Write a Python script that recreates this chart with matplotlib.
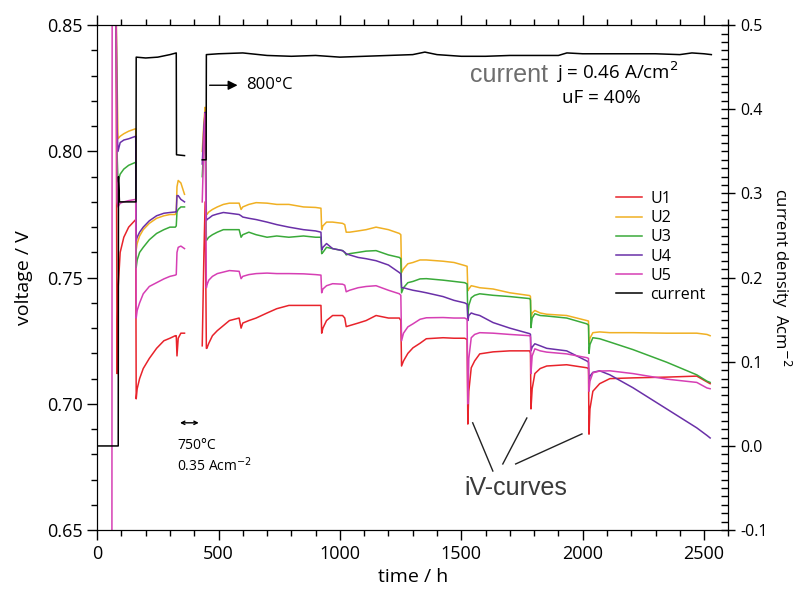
import numpy as np
import matplotlib.pyplot as plt
from matplotlib.ticker import MultipleLocator

nan = np.nan

# common time base for the five cell voltages (h); 400 h is the gap in the record
T = [61, 62, 64, 78, 82, 86, 95, 110, 130, 159,
     161, 165, 175, 190, 215, 245, 275, 300, 322, 326,
     329, 334, 345, 360, 400, 433, 440, 445, 450, 452,
     460, 475, 495, 520, 545, 585, 593, 600, 625, 655,
     700, 740, 790, 850, 900, 922, 925, 930, 945, 970,
     1011, 1020, 1026, 1040, 1075, 1108, 1149, 1200, 1245, 1251,
     1254, 1262, 1280, 1301, 1330, 1356, 1425, 1470, 1514, 1524,
     1527, 1531, 1541, 1555, 1576, 1631, 1700, 1782, 1785, 1787,
     1792, 1803, 1825, 1852, 1934, 2017, 2024, 2026, 2030, 2042,
     2070, 2112, 2207, 2346, 2470, 2512, 2525]

U1 = [nan, nan, 0.86, 0.86, 0.712, 0.745, 0.760, 0.766, 0.770, 0.773,
      0.702, 0.706, 0.710, 0.714, 0.718, 0.722, 0.725, 0.726, 0.727, 0.727,
      0.719, 0.726, 0.728, 0.728, nan, 0.723, 0.760, 0.780, 0.722, 0.722,
      0.724, 0.727, 0.729, 0.731, 0.733, 0.734, 0.730, 0.732, 0.733, 0.734,
      0.736, 0.7377, 0.739, 0.739, 0.739, 0.739, 0.728, 0.730, 0.733, 0.735,
      0.735, 0.734, 0.7306, 0.731, 0.732, 0.733, 0.735, 0.734, 0.734, 0.733,
      0.715, 0.717, 0.720, 0.7222, 0.724, 0.7258, 0.7262, 0.726, 0.726, 0.7255,
      0.692, 0.705, 0.7143, 0.717, 0.7198, 0.7206, 0.721, 0.721, 0.720, 0.698,
      0.706, 0.712, 0.714, 0.715, 0.7155, 0.7143, 0.714, 0.688, 0.698, 0.705,
      0.708, 0.710, 0.7103, 0.7106, 0.711, 0.7087, 0.708]

U2 = [nan, nan, 0.86, 0.86, 0.83, 0.805, 0.806, 0.807, 0.808, 0.809,
      0.761, 0.7635, 0.7665, 0.769, 0.7715, 0.7735, 0.7745, 0.775, 0.775, 0.776,
      0.786, 0.7885, 0.7875, 0.783, nan, 0.800, 0.812, 0.8175, 0.775, 0.775,
      0.776, 0.777, 0.778, 0.779, 0.7795, 0.7795, 0.777, 0.778, 0.779, 0.7797,
      0.7795, 0.779, 0.779, 0.778, 0.7778, 0.7775, 0.769, 0.7705, 0.772, 0.772,
      0.7715, 0.771, 0.768, 0.768, 0.7685, 0.769, 0.770, 0.769, 0.7675, 0.767,
      0.752, 0.7535, 0.7555, 0.756, 0.757, 0.757, 0.7565, 0.756, 0.7548, 0.7545,
      0.7448, 0.7455, 0.7468, 0.7465, 0.746, 0.7455, 0.744, 0.7429, 0.7425, 0.7337,
      0.736, 0.737, 0.736, 0.7355, 0.735, 0.733, 0.7328, 0.7238, 0.726, 0.7282,
      0.7285, 0.7282, 0.7282, 0.728, 0.728, 0.7275, 0.727]

U3 = [nan, nan, 0.86, 0.86, 0.80, 0.788, 0.791, 0.793, 0.7945, 0.7957,
      0.754, 0.757, 0.760, 0.762, 0.765, 0.7675, 0.769, 0.770, 0.770, 0.7705,
      0.776, 0.777, 0.778, 0.778, nan, 0.790, 0.804, 0.809, 0.7647, 0.765,
      0.766, 0.767, 0.768, 0.769, 0.769, 0.769, 0.766, 0.767, 0.768, 0.767,
      0.766, 0.7665, 0.766, 0.7665, 0.766, 0.766, 0.7595, 0.760, 0.762, 0.7615,
      0.7607, 0.760, 0.759, 0.7595, 0.760, 0.7605, 0.7607, 0.759, 0.758, 0.7575,
      0.744, 0.746, 0.748, 0.7485, 0.7495, 0.7496, 0.749, 0.7485, 0.748, 0.7475,
      0.735, 0.739, 0.742, 0.743, 0.7436, 0.743, 0.7425, 0.7417, 0.741, 0.7302,
      0.734, 0.7357, 0.735, 0.7348, 0.734, 0.7317, 0.7312, 0.720, 0.7235, 0.7262,
      0.7258, 0.7245, 0.7215, 0.7165, 0.7115, 0.709, 0.7085]

U4 = [nan, nan, 0.86, 0.86, 0.81, 0.800, 0.8035, 0.8045, 0.805, 0.806,
      0.7647, 0.766, 0.768, 0.770, 0.7725, 0.7745, 0.7755, 0.7758, 0.776, 0.776,
      0.7825, 0.7825, 0.781, 0.780, nan, 0.795, 0.810, 0.8155, 0.7726, 0.773,
      0.7735, 0.7746, 0.7752, 0.7758, 0.7755, 0.775, 0.7745, 0.774, 0.7735, 0.773,
      0.772, 0.771, 0.770, 0.769, 0.7685, 0.768, 0.761, 0.762, 0.7635, 0.7615,
      0.7607, 0.760, 0.7595, 0.759, 0.758, 0.7575, 0.7567, 0.755, 0.752, 0.7515,
      0.746, 0.746, 0.7455, 0.745, 0.7445, 0.744, 0.7425, 0.741, 0.740, 0.7395,
      0.733, 0.735, 0.736, 0.7355, 0.735, 0.7322, 0.730, 0.7278, 0.7275, 0.721,
      0.7225, 0.7238, 0.723, 0.722, 0.721, 0.717, 0.7165, 0.708, 0.711, 0.7125,
      0.7131, 0.7115, 0.7064, 0.698, 0.6905, 0.6875, 0.6865]

U5 = [0.645, 0.86, 0.86, 0.86, 0.78, 0.778, 0.7795, 0.780, 0.7805, 0.781,
      0.734, 0.737, 0.740, 0.7436, 0.7465, 0.748, 0.7495, 0.7505, 0.751, 0.7512,
      0.760, 0.762, 0.7625, 0.7615, nan, 0.780, 0.805, 0.815, 0.746, 0.747,
      0.749, 0.7505, 0.7516, 0.7522, 0.7528, 0.7525, 0.7496, 0.7505, 0.7512, 0.7516,
      0.7518, 0.7516, 0.7516, 0.7515, 0.7512, 0.751, 0.744, 0.7455, 0.7468, 0.7476,
      0.7474, 0.747, 0.7444, 0.745, 0.746, 0.7465, 0.7468, 0.745, 0.7436, 0.743,
      0.725, 0.728, 0.7305, 0.7317, 0.7335, 0.7341, 0.7342, 0.734, 0.734, 0.7335,
      0.700, 0.718, 0.7262, 0.7275, 0.7282, 0.728, 0.7275, 0.727, 0.7265, 0.712,
      0.719, 0.7218, 0.721, 0.7205, 0.7198, 0.7183, 0.718, 0.705, 0.709, 0.7123,
      0.713, 0.7131, 0.712, 0.7098, 0.7085, 0.7063, 0.706]

# current density (right axis)
TC = [0, 87, 88, 92, 160, 161, 200, 250, 300, 326, 327, 360, 400,
      433, 449, 450, 500, 600, 700, 800, 900, 1000, 1100, 1200, 1300,
      1350, 1400, 1500, 1600, 1700, 1800, 1900, 1935, 2000, 2100, 2200,
      2300, 2400, 2450, 2500, 2530]
JC = [0.0, 0.0, 0.32, 0.29, 0.29, 0.462, 0.461, 0.462, 0.465, 0.467, 0.346, 0.345, nan,
      0.34, 0.34, 0.465, 0.466, 0.467, 0.464, 0.463, 0.464, 0.462, 0.463, 0.464, 0.465,
      0.468, 0.465, 0.463, 0.463, 0.464, 0.464, 0.464, 0.467, 0.466, 0.466, 0.466,
      0.466, 0.465, 0.467, 0.466, 0.465]

NAMES = ["U1", "U2", "U3", "U4", "U5"]
COLORS = ["#e8232b", "#f0b023", "#3aaa3a", "#6a30a8", "#d63fb4"]

plt.rcParams["font.family"] = ["Open Sans", "DejaVu Sans"]

fig = plt.figure(figsize=(7.96, 5.99), dpi=100)
ax = fig.add_axes([0.122, 0.115, 0.793, 0.843])
ax2 = ax.twinx()

for name, vals, col in zip(NAMES, [U1, U2, U3, U4, U5], COLORS):
    ax.plot(T, vals, color=col, lw=1.1, label=name)
ax2.plot(TC, JC, color="black", lw=1.1)
ax.plot([], [], color="black", lw=1.1, label="current")

ax.set_xlim(0, 2600)
ax.set_ylim(0.65, 0.85)
ax2.set_ylim(-0.1, 0.5)

ax.xaxis.set_major_locator(MultipleLocator(500))
ax.xaxis.set_minor_locator(MultipleLocator(100))
ax.yaxis.set_major_locator(MultipleLocator(0.05))
ax.yaxis.set_minor_locator(MultipleLocator(0.01))
ax.yaxis.set_major_formatter(lambda v, p: f"{v:.2f}")
ax2.yaxis.set_major_locator(MultipleLocator(0.1))
ax2.yaxis.set_minor_locator(MultipleLocator(0.01))
ax2.yaxis.set_major_formatter(lambda v, p: f"{v:.1f}")

ax.tick_params(which="both", direction="out", top=True, right=False, labelsize=13)
ax.tick_params(which="major", length=7, width=1)
ax.tick_params(which="minor", length=4, width=1)
ax2.tick_params(which="major", direction="inout", length=10, width=1, labelsize=11.5)
ax2.tick_params(which="minor", direction="in", length=5, width=1)

ax.set_xlabel("time / h", fontsize=14)
ax.set_ylabel("voltage / V", fontsize=14, labelpad=10)
ax2.set_ylabel("current density  Acm$^{-2}$", fontsize=12, rotation=270, labelpad=18)

ax.legend(loc="upper left", bbox_to_anchor=(0.80, 0.70), frameon=False,
          fontsize=11.5, handlelength=1.6, handletextpad=0.5, labelspacing=0.2)

# annotations
ax.annotate("", xy=(590, 0.8262), xytext=(452, 0.8262),
            arrowprops=dict(arrowstyle="-|>", color="black", lw=1.0, mutation_scale=14))
ax.text(615, 0.8262, "800°C", fontsize=12, va="center")
ax.annotate("", xy=(430, 0.6925), xytext=(330, 0.6925),
            arrowprops=dict(arrowstyle="<->", color="black", lw=1.0, mutation_scale=6))
ax.text(330, 0.6837, "750°C", fontsize=10, va="center")
ax.text(330, 0.6754, "0.35 Acm$^{-2}$", fontsize=10, va="center")

ax.text(1535, 0.8302, "current", fontsize=18, color="#6e6e6e",
        family="Liberation Sans", va="center")
ax.text(1889, 0.8312, "j = 0.46 A/cm$^2$", fontsize=13.5, va="center")
ax.text(1914, 0.8212, "uF = 40%", fontsize=13.5, va="center")

ax.text(1514, 0.6665, "iV-curves", fontsize=18, color="#3a3a3a",
        family="Liberation Sans", va="center")
for x0, y0, x1, y1 in [(1630, 0.6734, 1547, 0.6925),
                       (1671, 0.6762, 1770, 0.6944),
                       (1724, 0.6762, 1997, 0.6881)]:
    ax.plot([x0, x1], [y0, y1], color="#222222", lw=1.0)

fig.savefig("out.png", dpi=100)
